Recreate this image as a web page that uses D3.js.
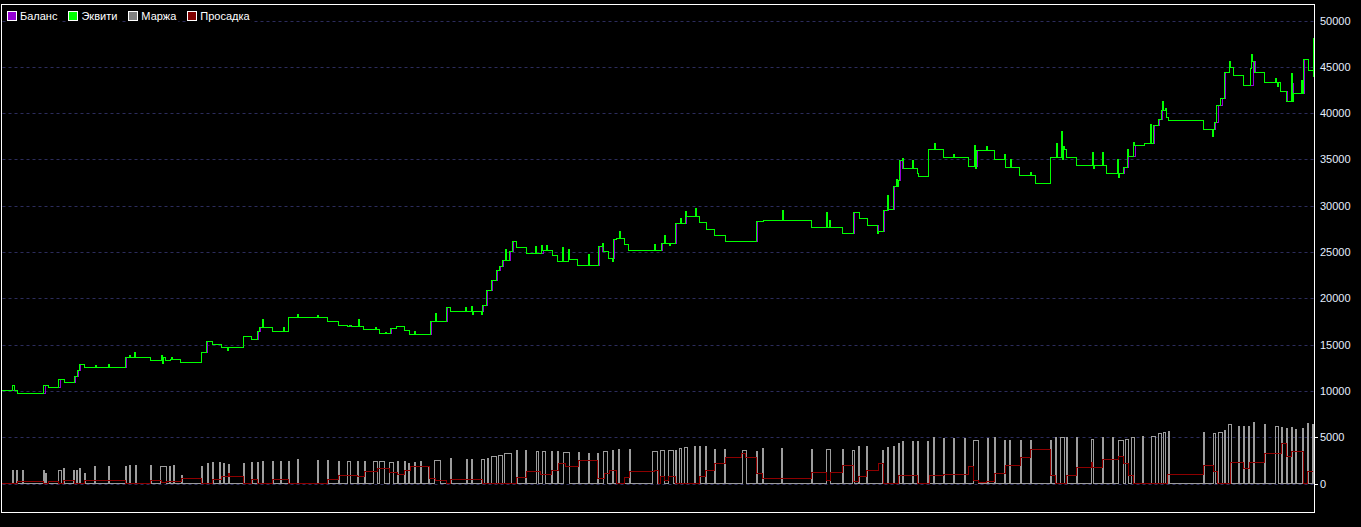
<!DOCTYPE html>
<html><head><meta charset="utf-8">
<script src="https://cdn.jsdelivr.net/npm/d3@7"></script>
<style>html,body{margin:0;padding:0;background:#000;overflow:hidden}</style>
</head><body>
<svg id="c" width="1361" height="527"></svg>
<script>
const legendLabels = ["Баланс", "Эквити", "Маржа", "Просадка"];
const legendColors = ["#9400d3", "#00ff00", "#808080", "#800000"];
const yTicks = [0, 5000, 10000, 15000, 20000, 25000, 30000, 35000, 40000, 45000, 50000];
const barRange = [2, 1313];

// [bar, value] step points
const balance = [[2,10040],[17,9690],[45,10550],[48,10340],[60,11200],[64,10880],[75,11520],[78,12150],[80,12820],[84,12500],[126,13580],[150,13250],[162,13650],[165,13280],[170,13390],[180,13070],[201,14150],[207,15370],[212,14980],[221,14650],[243,15840],[251,15550],[258,16450],[260,16810],[272,16380],[288,17890],[327,17460],[338,17030],[347,16920],[363,16600],[379,16170],[391,16710],[396,16920],[404,16560],[409,16060],[431,17460],[447,18970],[450,18540],[483,19220],[487,20840],[492,21920],[497,23000],[500,23470],[503,24080],[510,25090],[513,26140],[516,25450],[526,24800],[543,25160],[552,24590],[557,23940],[568,24160],[577,23510],[599,25560],[602,25020],[608,24330],[614,26350],[616,26420],[624,25780],[628,25130],[662,25960],[676,28050],[686,28840],[699,28160],[706,27400],[714,26750],[725,26100],[757,28260],[763,28370],[811,27610],[842,26960],[854,29230],[859,28580],[867,27830],[878,27180],[884,29480],[888,29560],[894,32040],[898,32720],[900,34850],[902,33990],[917,33450],[918,33120],[928,36040],[943,35180],[968,34200],[977,35930],[994,34960],[1005,34100],[1019,33230],[1035,32370],[1050,35180],[1063,36040],[1066,35180],[1076,34310],[1106,33450],[1124,34100],[1128,35300],[1135,36470],[1144,36690],[1154,38630],[1159,39350],[1162,40280],[1166,39500],[1168,39200],[1203,38200],[1215,38990],[1218,40790],[1222,41580],[1225,44390],[1229,44960],[1233,44030],[1243,42950],[1253,45540],[1255,44350],[1264,43270],[1280,42300],[1287,41220],[1292,43160],[1293,42080],[1304,45760],[1308,44570],[1313,44570]];

const equity = [[2,10040],[12,10550],[14,10040],[17,9690],[43,10550],[48,10340],[58,11200],[64,10880],[74,11520],[77,12150],[79,12820],[84,12500],[95,12770],[96,12500],[108,12800],[109,12500],[125,13580],[129,13830],[130,13580],[134,14150],[135,13580],[150,13250],[161,13800],[162,13000],[163,13650],[165,13280],[170,13390],[171,13600],[172,13390],[180,13070],[201,14150],[206,15370],[212,14980],[221,14650],[227,14400],[228,14650],[243,15840],[251,15550],[257,16450],[259,16810],[262,17750],[263,16810],[272,16380],[283,16800],[284,16380],[288,17890],[297,18200],[298,17890],[317,18150],[318,17890],[327,17460],[338,17030],[347,16920],[349,17100],[351,16920],[358,17700],[359,16920],[363,16600],[375,16800],[376,16600],[379,16170],[385,16300],[386,16170],[390,16710],[396,16920],[404,16560],[409,16060],[414,16400],[415,16060],[430,17460],[435,18360],[436,17460],[446,18970],[450,18540],[465,19000],[466,18540],[471,19100],[472,18300],[473,18540],[481,18250],[482,19220],[486,20840],[491,21920],[496,23000],[499,23470],[502,24080],[505,25300],[506,24080],[509,25090],[512,26140],[516,25450],[526,24800],[535,25600],[536,24800],[541,25700],[542,25160],[546,25740],[547,25160],[552,24590],[557,23940],[562,25500],[563,24000],[564,23940],[568,25240],[569,24160],[577,23510],[588,24700],[589,23510],[598,25560],[602,25900],[603,25020],[608,24330],[612,24000],[613,26350],[616,26420],[619,27220],[620,26420],[624,25780],[628,25130],[654,25810],[655,25130],[661,25960],[664,26820],[665,25960],[669,25700],[670,25960],[675,28050],[680,28590],[681,28050],[685,29330],[686,28840],[695,29700],[696,28840],[699,28160],[706,27400],[714,26750],[725,26100],[756,28260],[763,28370],[782,29520],[783,28370],[811,27610],[826,29230],[827,27610],[829,28400],[830,27610],[842,26960],[853,29230],[859,28580],[867,27830],[877,27000],[878,27180],[883,29480],[887,31100],[888,29560],[893,32040],[896,32800],[897,32040],[898,32720],[899,34850],[902,35060],[903,33990],[912,34900],[913,33990],[917,33450],[918,33120],[928,36040],[934,36760],[935,36040],[943,35180],[953,35500],[954,35180],[968,34200],[974,36530],[975,34000],[976,35930],[986,36430],[987,35930],[994,34960],[1004,35500],[1005,34100],[1010,35000],[1011,34100],[1019,33230],[1030,33600],[1031,33230],[1035,32370],[1050,35180],[1056,36760],[1057,35180],[1061,37980],[1062,35000],[1063,36400],[1064,36040],[1066,35180],[1076,34310],[1092,35700],[1093,34000],[1094,34310],[1102,35700],[1103,34310],[1106,33450],[1117,35000],[1118,33000],[1119,33450],[1123,34100],[1127,36040],[1128,35300],[1133,36800],[1134,36470],[1144,36690],[1150,38800],[1151,36690],[1153,38630],[1158,39350],[1161,40280],[1162,41270],[1163,40280],[1165,40500],[1166,39500],[1168,39200],[1203,38200],[1212,37430],[1213,38200],[1214,38990],[1216,40790],[1220,41580],[1224,44390],[1229,45580],[1230,44960],[1233,44030],[1243,42950],[1250,44800],[1251,46360],[1252,45540],[1254,44350],[1264,43270],[1275,43700],[1276,43270],[1277,42900],[1278,43270],[1280,42300],[1286,41220],[1291,44250],[1292,41210],[1293,42080],[1301,43500],[1302,42080],[1303,45760],[1308,44570],[1312,44570],[1313,48060],[1313.5,43850]];

// [startBar, endBar, value]
const margin = [[12,13,1440],[16,17,1440],[22,23,1440],[43,44,1440],[45,46,1080],[58,61,1440],[63,64,1620],[73,74,1440],[76,77,1440],[79,80,1620],[84,85,1080],[94,95,1870],[108,109,1870],[125,126,1800],[129,130,1980],[135,136,1980],[150,151,1980],[160,166,1870],[169,170,1870],[173,174,1980],[181,182,900],[201,202,1870],[207,208,2160],[212,213,2270],[219,220,2270],[223,224,2160],[228,229,2090],[243,244,2160],[251,252,2270],[257,258,2270],[262,263,2410],[272,273,2410],[280,281,2410],[288,289,2410],[297,298,2630],[317,318,2520],[327,328,2520],[338,339,2340],[347,350,2410],[357,358,2410],[364,365,2410],[373,377,2410],[379,384,2340],[389,393,2270],[397,398,2410],[404,405,2340],[408,409,2160],[414,415,2230],[420,421,2410],[428,429,1870],[434,440,2520],[450,451,2700],[466,467,2590],[471,472,2590],[481,484,2590],[487,488,2700],[491,496,2950],[498,502,3060],[504,511,3240],[516,517,3600],[525,526,3600],[536,538,3490],[542,545,3490],[551,552,3420],[557,558,3420],[563,569,3350],[578,579,3350],[588,589,3240],[597,598,3240],[603,607,3490],[612,613,3530],[618,619,3670],[629,630,3670],[652,657,3490],[660,664,3600],[668,673,3600],[675,676,3600],[679,681,3780],[684,687,3890],[694,695,3960],[699,700,4030],[705,706,3960],[714,715,3670],[724,725,3670],[742,746,3600],[756,757,3420],[762,763,3780],[781,782,3780],[811,812,3710],[826,830,3670],[842,843,3670],[852,854,3530],[858,859,3960],[866,867,4030],[882,883,3600],[887,888,3890],[893,894,3960],[898,899,4320],[902,903,4570],[912,913,4570],[917,918,4500],[927,928,4570],[933,934,4930],[943,944,4860],[953,954,4860],[964,965,4860],[973,978,4680],[987,988,4860],[994,995,4970],[1004,1005,4610],[1009,1010,4610],[1020,1021,4610],[1030,1031,4610],[1050,1051,4610],[1055,1056,4970],[1060,1064,4970],[1066,1067,4970],[1076,1077,4970],[1091,1093,4750],[1102,1103,4970],[1112,1113,4970],[1118,1123,4680],[1125,1128,4790],[1131,1134,4970],[1142,1143,5110],[1151,1155,5110],[1158,1161,5400],[1163,1165,5470],[1168,1169,5580],[1203,1204,5470],[1213,1215,5400],[1218,1222,5510],[1224,1225,5760],[1228,1231,6370],[1238,1239,6120],[1243,1244,6120],[1248,1249,6120],[1253,1254,6550],[1264,1265,6410],[1275,1278,6190],[1281,1282,6050],[1286,1287,5940],[1291,1292,6050],[1295,1296,5830],[1302,1303,5940],[1307,1308,6480],[1312,1313,6410]];

// [bar, value] step points
const drawdown = [[2,0],[17,216],[43,0],[48,216],[58,0],[63,360],[74,0],[84,360],[125,0],[150,290],[161,100],[166,180],[181,540],[201,0],[212,430],[221,790],[228,1080],[229,790],[243,0],[251,430],[257,0],[272,430],[288,0],[327,430],[338,900],[357,720],[364,1330],[377,1620],[389,1150],[397,1010],[404,1440],[410,1870],[429,540],[435,360],[446,0],[450,430],[482,0],[516,650],[526,1260],[540,970],[551,1440],[558,2160],[565,1870],[578,2520],[597,540],[604,1080],[609,1440],[616,0],[624,650],[629,1260],[654,1440],[658,0],[660,720],[664,360],[668,790],[675,0],[699,720],[705,1370],[714,2160],[725,2810],[741,3240],[745,2810],[756,1080],[762,540],[811,1190],[826,360],[830,1190],[842,1980],[853,180],[858,720],[866,1440],[878,2160],[883,0],[898,900],[917,0],[929,900],[943,1010],[968,1870],[973,360],[978,110],[986,180],[994,1080],[1005,1980],[1020,2810],[1030,3670],[1050,900],[1055,0],[1066,900],[1076,1730],[1091,2300],[1092,1730],[1102,2590],[1118,2950],[1123,2160],[1128,900],[1133,0],[1167,1010],[1203,1980],[1213,1260],[1217,0],[1230,2270],[1243,1620],[1249,2270],[1264,3240],[1281,4320],[1286,2880],[1291,3490],[1303,0],[1307,1260],[1313,1260]];

const svg = d3.select("#c");
const frame = {left: 1.5, top: 4.5, right: 1314.5, bottom: 512.5};

const x = d3.scaleLinear().domain(barRange).range([2, 1313]);
const y = d3.scaleLinear().domain([0, 50000]).range([483.5, 20.5]);

svg.append("rect").attr("width", 1361).attr("height", 527).attr("fill", "#000");

// grid
svg.append("g").selectAll("line").data(yTicks).join("line")
  .attr("x1", frame.left + 1).attr("x2", frame.right - 1)
  .attr("y1", d => Math.round(y(d)) + 0.5).attr("y2", d => Math.round(y(d)) + 0.5)
  .attr("stroke", "#2c2c5c").attr("stroke-width", 1).attr("stroke-dasharray", "3,3");

const stepLine = d3.line().x(d => x(d[0])).y(d => y(d[1])).curve(d3.curveStepAfter);

// margin series built from its spans
const marginPts = [[barRange[0], 0]];
margin.forEach(m => { marginPts.push([m[0], m[2]]); marginPts.push([m[1], 0]); });
marginPts.push([barRange[1], 0]);

const plot = svg.append("g").attr("shape-rendering", "crispEdges");
plot.append("path").datum(marginPts).attr("d", stepLine)
  .attr("fill", "none").attr("stroke", "#9c9c9c").attr("stroke-width", 1);
plot.append("path").datum(drawdown).attr("d", stepLine)
  .attr("fill", "none").attr("stroke", "#8e0000").attr("stroke-width", 1);
plot.append("path").datum(balance).attr("d", stepLine)
  .attr("fill", "none").attr("stroke", "#9400d3").attr("stroke-width", 1);
plot.append("path").datum(equity).attr("d", stepLine)
  .attr("fill", "none").attr("stroke", "#00ff00").attr("stroke-width", 1);

// frame
svg.append("rect")
  .attr("x", frame.left).attr("y", frame.top)
  .attr("width", frame.right - frame.left).attr("height", frame.bottom - frame.top)
  .attr("fill", "none").attr("stroke", "#fff").attr("stroke-width", 1)
  .attr("shape-rendering", "crispEdges");

// right axis
const axis = d3.axisRight(y).tickValues(yTicks).tickSize(0).tickPadding(6).tickFormat(d3.format("d"));
const ax = svg.append("g").attr("transform", `translate(${frame.right - 0.5},0)`).call(axis);
ax.select(".domain").remove();
ax.selectAll("text").attr("fill", "#e4eeff")
  .style("font-family", "Arial, 'Liberation Sans', sans-serif").style("font-size", "11px");
svg.append("g").selectAll("line").data([0, 5000]).join("line")
  .attr("x1", frame.right).attr("x2", frame.right + 3)
  .attr("y1", d => Math.round(y(d)) + 0.5).attr("y2", d => Math.round(y(d)) + 0.5)
  .attr("stroke", "#fff").attr("shape-rendering", "crispEdges");

// legend
const lg = svg.append("g");
let lx = 7;
legendLabels.forEach((lab, i) => {
  const g = lg.append("g");
  const bg = g.append("rect").attr("fill", "#000");
  g.append("rect").attr("x", lx + 0.5).attr("y", 11.5).attr("width", 9).attr("height", 9)
    .attr("fill", legendColors[i]).attr("stroke", "#fff").attr("stroke-width", 1)
    .attr("shape-rendering", "crispEdges");
  const t = g.append("text").attr("x", lx + 13).attr("y", 20).text(lab)
    .attr("fill", "#fff").style("font-family", "Arial, 'Liberation Sans', sans-serif").style("font-size", "11px");
  const w = t.node().getComputedTextLength();
  bg.attr("x", lx - 1).attr("y", 9).attr("width", w + 16).attr("height", 14);
  lx += 13 + w + 11;
});
</script>
</body></html>
